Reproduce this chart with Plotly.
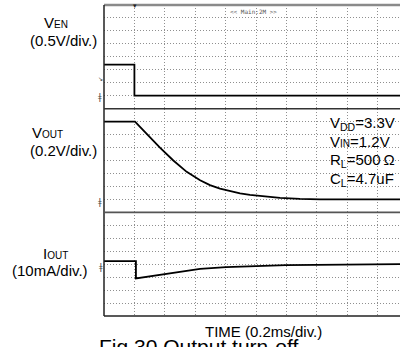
import plotly.graph_objects as go
from plotly.subplots import make_subplots

# ---- waveform data (time in ms, 0.2 ms/div) ----
ven_t = [0.0, 0.2, 0.2, 2.0]
ven_v = [1.2, 1.2, 0.0, 0.0]          # V

vout_t = [0.0, 0.204, 0.24, 0.281, 0.368, 0.456, 0.544, 0.632, 0.697, 0.763,
          0.829, 0.895, 0.96, 1.026, 1.092, 1.158, 1.289, 1.421, 2.0]
vout_v = [1.2, 1.2, 1.11, 1.01, 0.80, 0.60, 0.425, 0.295, 0.22, 0.165,
          0.127, 0.093, 0.069, 0.051, 0.035, 0.022, 0.007, 0.0, 0.0]   # V

iout_t = [0.0, 0.21, 0.21, 0.303, 0.412, 0.52, 0.632, 0.803, 1.0,
          1.197, 1.395, 1.59, 2.0]
iout_i = [2.4, 2.4, -11.0, -9.5, -7.6, -5.6, -3.7, -2.3, -1.3,
          -0.8, -0.5, -0.2, 0.0]  # mA

# vertical scales: 8 divisions per channel
y_ranges = [(-0.5, 3.5, 0.5), (-0.2, 1.4, 0.2), (-40, 40, 10)]
x_range = (0.0, 1.947)

W, H = 400, 347
L, R, T, B = 104, 0, 5, 31
PW, PH = W - L - R, H - T - B


def px(x):
    return (x - L) / PW


def py(y):
    return (H - B - y) / PH


fig = make_subplots(rows=3, cols=1, shared_xaxes=True, vertical_spacing=0)

line_style = dict(color="black", width=1.8)
fig.add_trace(go.Scatter(x=ven_t, y=ven_v, mode="lines", line=line_style), row=1, col=1)
fig.add_trace(go.Scatter(x=vout_t, y=vout_v, mode="lines", line=line_style), row=2, col=1)
fig.add_trace(go.Scatter(x=iout_t, y=iout_i, mode="lines", line=line_style), row=3, col=1)

grid = dict(showgrid=True, gridcolor="#8f8f8f", gridwidth=1, griddash="1px,2px",
            zeroline=False, showticklabels=False, ticks="", showline=False)
for r, (lo, hi, dt) in enumerate(y_ranges, start=1):
    fig.update_yaxes(range=[lo, hi], dtick=dt, tick0=lo, fixedrange=True, **grid, row=r, col=1)
    fig.update_xaxes(range=list(x_range), dtick=0.2, tick0=0, **grid, row=r, col=1)

# screen frame and channel separators
shapes = [
    dict(type="line", xref="paper", yref="paper", x0=0, x1=1, y0=1, y1=1,
         line=dict(color="#8a8a8a", width=2.5)),
    dict(type="line", xref="paper", yref="paper", x0=0, x1=0, y0=0, y1=1,
         line=dict(color="#222", width=1.5)),
    dict(type="line", xref="paper", yref="paper", x0=0, x1=1, y0=0, y1=0,
         line=dict(color="#222", width=1.5)),
    dict(type="line", xref="paper", yref="paper", x0=0, x1=1, y0=2 / 3, y1=2 / 3,
         line=dict(color="#333", width=1.5)),
    dict(type="line", xref="paper", yref="paper", x0=0, x1=1, y0=1 / 3, y1=1 / 3,
         line=dict(color="#555", width=1.8)),
]

FONT = "Liberation Sans, Arial, sans-serif"
ann = []


def text(s, x, y, size=15, xanchor="center", yanchor="middle", family=FONT, color="black"):
    ann.append(dict(text=s, x=px(x), y=py(y), xref="paper", yref="paper",
                    xanchor=xanchor, yanchor=yanchor, showarrow=False,
                    font=dict(size=size, family=family, color=color)))


small = "<span style='font-size:10px'>{}</span>"

# channel labels
text("V" + small.format("EN"), 56, 22)
text("(0.5V/div.)", 63.5, 41)
text("V" + small.format("OUT"), 47, 132)
text("(0.2V/div.)", 63.5, 150)
text("I" + small.format("OUT"), 55, 253)
text("(10mA/div.)", 50, 270)

# test conditions
text("V<sub>DD</sub>=3.3V", 328, 123, size=15, xanchor="left")
text("V" + small.format("IN") + "=1.2V", 328, 141, size=15, xanchor="left")
text("R<sub>L</sub>=500\u2009Ω", 328, 160, size=15, xanchor="left")
text("C<sub>L</sub>=4.7uF", 328, 180, size=15, xanchor="left")

# time base and caption
text("TIME (0.2ms/div.)", 263.5, 331)
text("Fig.30 Output turn-off", 97, 333, size=21, xanchor="left", yanchor="top")

# scope screen markers
text("&lt;&lt; Main:2M &gt;&gt;", 253, 11, size=6, family="DejaVu Sans Mono", color="#555")
text("▾", 134.5, 5, size=7, color="#222")
text("ǂ", 100, 97, size=8, family="DejaVu Sans", color="#444")
text("ǂ", 100, 202, size=8, family="DejaVu Sans", color="#444")
text("ǂ", 101, 267, size=8, family="DejaVu Sans", color="#444")
text("↘", 100, 79, size=6, family="DejaVu Sans", color="#222")

fig.update_layout(
    width=W, height=H,
    margin=dict(l=L, r=R, t=T, b=B),
    paper_bgcolor="white", plot_bgcolor="white",
    showlegend=False, hovermode=False,
    font=dict(family=FONT, color="black"),
    shapes=shapes, annotations=ann,
)

fig.write_html("out.html", config={"displayModeBar": False})
